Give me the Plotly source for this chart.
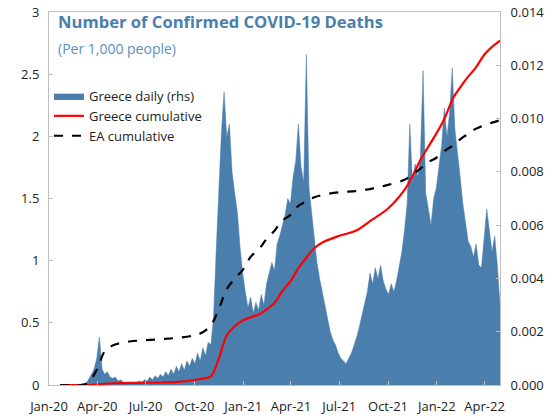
import pandas as pd
import plotly.graph_objects as go

# Greece daily deaths per 1,000 people (rhs), one reading every 5 days ending 30 Apr 2022
daily_end = '2022-04-30'
greece_daily = [
    0, 0, 0, 0, 0, 0, 0, 0, 0, 0.05,
    0.2, 0.4, 0.6, 1.0, 1.8, 0.6, 0.4, 0.5, 0.3, 0.25,
    0.3, 0.15, 0.2, 0.1, 0.1, 0.05, 0.1, 0.05, 0.1, 0.15,
    0.1, 0.2, 0.15, 0.3, 0.2, 0.35, 0.25, 0.4, 0.3, 0.5,
    0.35, 0.6, 0.4, 0.7, 0.5, 0.8, 0.55, 0.9, 0.7, 1.0,
    0.8, 1.2, 0.9, 1.4, 1.1, 1.6, 1.5, 2.5, 5.0, 7.5,
    9.5, 11.0, 9.3, 9.8, 8.0, 7.2, 6.5, 5.2, 4.2, 3.5,
    2.9, 3.3, 2.7, 3.1, 2.8, 3.4, 3.0, 3.8, 4.2, 4.6,
    4.3, 5.3, 5.6, 6.0, 6.4, 7.0, 6.8, 7.8, 8.4, 9.8,
    8.2, 7.6, 12.4, 7.4, 6.5, 5.4, 4.6, 4.0, 3.5, 2.9,
    2.5, 2.0, 1.7, 1.5, 1.2, 1.0, 0.9, 0.8, 1.0, 1.2,
    1.5, 1.8, 2.2, 2.6, 3.1, 3.5, 4.2, 3.8, 4.4, 4.0,
    4.5, 3.9, 3.6, 3.4, 3.8, 3.5, 3.9, 4.5, 5.0, 5.8,
    6.8, 9.8, 7.6, 8.3, 7.8, 8.6, 11.8, 7.2, 6.5, 6.0,
    7.0, 7.4, 8.2, 9.0, 10.4, 9.3, 10.2, 11.9, 9.6, 8.8,
    7.8, 6.8, 6.0, 5.4, 5.2, 4.8, 5.3, 4.5, 4.4, 5.6,
    6.6, 5.8, 5.0, 5.6, 4.5, 3.0,
]
greece_daily = [v / 1000 for v in greece_daily]
daily_dates = pd.date_range(end=daily_end, periods=len(greece_daily), freq='5D')

# cumulative deaths per 1,000 people (lhs)
cum_dates = [
    '2020-01-22', '2020-03-01', '2020-03-15', '2020-04-01', '2020-04-15',
    '2020-05-01', '2020-06-01', '2020-07-01', '2020-08-01', '2020-09-01',
    '2020-10-01', '2020-10-15', '2020-11-01', '2020-11-15', '2020-12-01',
    '2020-12-15', '2021-01-01', '2021-01-15', '2021-02-01', '2021-02-15',
    '2021-03-01', '2021-03-15', '2021-04-01', '2021-04-15', '2021-05-01',
    '2021-05-15', '2021-06-01', '2021-07-01', '2021-08-01', '2021-09-01',
    '2021-10-01', '2021-11-01', '2021-11-15', '2021-12-01', '2021-12-15',
    '2022-01-01', '2022-01-15', '2022-02-01', '2022-02-15', '2022-03-01',
    '2022-03-15', '2022-04-01', '2022-04-15', '2022-04-30',
]
greece_cum = [
    0, 0, 0, 0.005, 0.01,
    0.014, 0.017, 0.018, 0.02, 0.025,
    0.04, 0.05, 0.07, 0.2, 0.4,
    0.47, 0.52, 0.545, 0.57, 0.61,
    0.66, 0.75, 0.84, 0.94, 1.03,
    1.10, 1.15, 1.2, 1.24, 1.33,
    1.42, 1.57, 1.67, 1.81, 1.91,
    2.03, 2.14, 2.31, 2.40, 2.48,
    2.55, 2.66, 2.72, 2.77,
]
ea_cum = [
    0, 0, 0.02, 0.13, 0.27,
    0.32, 0.35, 0.36, 0.37, 0.38,
    0.40, 0.42, 0.48, 0.6, 0.77,
    0.85, 0.93, 1.03, 1.1, 1.18,
    1.24, 1.32, 1.37, 1.44, 1.48,
    1.51, 1.53, 1.55, 1.56, 1.58,
    1.61, 1.65, 1.69, 1.74, 1.79,
    1.83, 1.88, 1.93, 1.98, 2.02,
    2.06, 2.09, 2.11, 2.13,
]

BLUE = '#4a7eac'
FONT = 'Open Sans'

fig = go.Figure()
fig.add_trace(go.Scatter(x=daily_dates, y=greece_daily, name='Greece daily (rhs)',
                         mode='lines', fill='tozeroy', fillcolor=BLUE,
                         line=dict(color=BLUE, width=0.5), yaxis='y'))
fig.add_trace(go.Scatter(x=cum_dates, y=greece_cum, name='Greece cumulative',
                         mode='lines', line=dict(color='#ff0000', width=2.2, shape='spline'),
                         yaxis='y2'))
fig.add_trace(go.Scatter(x=cum_dates, y=ea_cum, name='EA cumulative',
                         mode='lines', line=dict(color='black', width=2.2, dash='dash', shape='spline'),
                         yaxis='y2'))

axis_common = dict(showgrid=False, zeroline=False, showline=True, linecolor='#bfbfbf',
                   linewidth=1, ticks='inside', ticklen=4, tickcolor='#bfbfbf',
                   automargin=False,
                   tickfont=dict(family=FONT, size=13, color='#222222'))

fig.update_layout(
    width=555, height=418,
    margin=dict(l=49, r=55, t=12, b=33),
    paper_bgcolor='white', plot_bgcolor='white',
    font=dict(family=FONT, color='#222222'),
    showlegend=True,
    legend=dict(x=0.0, y=0.815, xanchor='left', yanchor='top', bgcolor='rgba(0,0,0,0)',
                font=dict(family=FONT, size=13, color='#222222'), tracegroupgap=0,
                itemwidth=30),
    xaxis=dict(type='date', range=['2020-01-01', '2022-04-30'], tick0='2020-01-01',
               dtick='M3', tickformat='%b-%y', mirror=True, ticklabelstandoff=9,
               **axis_common),
    yaxis=dict(range=[0, 0.014], dtick=0.002, tickformat='.3f', side='right',
               ticklabelstandoff=7, **axis_common),
    yaxis2=dict(range=[0, 3], dtick=0.5, side='left', overlaying='y',
                ticklabelstandoff=6, **axis_common),
    annotations=[
        dict(text='<b>Number of Confirmed COVID-19 Deaths</b>', xref='paper', yref='paper',
             x=0.016, y=0.974, xanchor='left', yanchor='middle', showarrow=False,
             font=dict(family=FONT, size=16.6, color=BLUE)),
        dict(text='(Per 1,000 people)', xref='paper', yref='paper',
             x=0.016, y=0.903, xanchor='left', yanchor='middle', showarrow=False,
             font=dict(family=FONT, size=14, color='#5b8fc4')),
    ],
)

# drop the browser's default body margin so the figure sits at the window corner
fig.write_html('out.html', config={'displayModeBar': False},
               post_script="document.body.style.margin = '0';")
